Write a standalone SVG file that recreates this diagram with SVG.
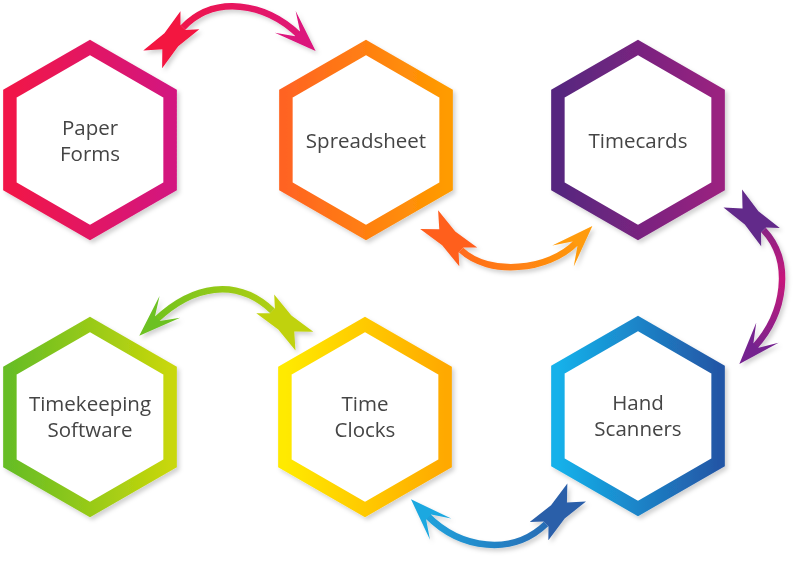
<svg xmlns="http://www.w3.org/2000/svg" xmlns:xlink="http://www.w3.org/1999/xlink" width="800" height="562" viewBox="0 0 800 562">
<style>
.hex{fill:#ffffff;stroke-width:13.5;stroke-linejoin:miter}
.lbl{font-family:"Open Sans","Liberation Sans",sans-serif;font-size:20.5px;fill:#444444;text-anchor:middle}
.shaft{fill:none;stroke-width:6.5;stroke-linecap:butt}
</style>
<defs>
<filter id="sh" x="-20%" y="-20%" width="140%" height="140%">
<feDropShadow dx="2.5" dy="3" stdDeviation="2" flood-color="#000" flood-opacity="0.18"/>
</filter>
<path id="hexp" d="M0,-92.5 L80.1,-46.25 L80.1,46.25 L0,92.5 L-80.1,46.25 L-80.1,-46.25 Z"/>
<path id="simple" d="M23,0 L-19,-15 L-2,-3.5 L-2,3.5 L-19,15 Z"/>
<path id="heavy" d="M0,-3.5 L-10,-13 L17,-9.5 L44,-13 L30,0 L44,13 L17,9.5 L-10,13 L0,3.5 Z"/>
<linearGradient id="gPaper" x1="0" y1="0" x2="1" y2="0"><stop offset="0" stop-color="#f11948"/><stop offset="1" stop-color="#d3137f"/></linearGradient>
<linearGradient id="gSpread" x1="0" y1="0" x2="1" y2="0"><stop offset="0" stop-color="#ff6422"/><stop offset="1" stop-color="#ff9b00"/></linearGradient>
<linearGradient id="gTimecards" x1="0" y1="0" x2="1" y2="0"><stop offset="0" stop-color="#56287f"/><stop offset="1" stop-color="#9a2080"/></linearGradient>
<linearGradient id="gKeeping" x1="0" y1="0" x2="1" y2="0"><stop offset="0" stop-color="#67bd25"/><stop offset="1" stop-color="#c8d70b"/></linearGradient>
<linearGradient id="gClocks" x1="0" y1="0" x2="1" y2="0"><stop offset="0" stop-color="#ffea00"/><stop offset="1" stop-color="#ffa900"/></linearGradient>
<linearGradient id="gHand" x1="0" y1="0" x2="1" y2="0"><stop offset="0" stop-color="#14b1ea"/><stop offset="1" stop-color="#2457a6"/></linearGradient>
<linearGradient id="a1" gradientUnits="userSpaceOnUse" x1="150" y1="0" x2="317" y2="0"><stop offset="0" stop-color="#f3123f"/><stop offset="1" stop-color="#dc127c"/></linearGradient>
<linearGradient id="a2" gradientUnits="userSpaceOnUse" x1="422" y1="0" x2="592" y2="0"><stop offset="0" stop-color="#ff5c20"/><stop offset="1" stop-color="#ff9d0a"/></linearGradient>
<linearGradient id="a3" gradientUnits="userSpaceOnUse" x1="0" y1="195" x2="0" y2="362"><stop offset="0" stop-color="#5f2a8b"/><stop offset="0.5" stop-color="#c8187b"/><stop offset="1" stop-color="#6c2590"/></linearGradient>
<linearGradient id="a4" gradientUnits="userSpaceOnUse" x1="412" y1="0" x2="584" y2="0"><stop offset="0" stop-color="#1ea8e0"/><stop offset="1" stop-color="#2a5ca9"/></linearGradient>
<linearGradient id="a5" gradientUnits="userSpaceOnUse" x1="140" y1="0" x2="312" y2="0"><stop offset="0" stop-color="#6cc121"/><stop offset="1" stop-color="#c2d30e"/></linearGradient>
</defs>

<g id="connectors" filter="url(#sh)">
<g id="c1">
<path class="shaft" stroke="url(#a1)" d="M183,27.5 C214.5,-5.5 265.2,2.6 299,35"/>
<use href="#heavy" fill="#f3123f" transform="translate(183,27.5) rotate(133.5)"/>
<use href="#simple" fill="#dc127c" transform="translate(299,35) rotate(43.8)"/>
</g>
<g id="c2">
<path class="shaft" stroke="url(#a2)" d="M461,250 C489,276.5 548.4,271 576.3,242.4"/>
<use href="#heavy" fill="#ff5e1f" transform="translate(461,250) rotate(-136.4)"/>
<use href="#simple" fill="#ff9b0a" transform="translate(576.3,242.4) rotate(-45.7)"/>
</g>
<g id="c3">
<path class="shaft" stroke="url(#a3)" d="M763.5,230 C793.4,261.5 784.8,313.4 754.7,346.9"/>
<use href="#heavy" fill="#62298a" transform="translate(763.5,230) rotate(-134.3)"/>
<use href="#simple" fill="#74238f" transform="translate(754.7,346.9) rotate(131.9)"/>
</g>
<g id="c4">
<path class="shaft" stroke="url(#a4)" d="M427.2,515.6 C461.1,549.6 512.5,556 546,524"/>
<use href="#simple" fill="#1ea8e0" transform="translate(427.2,515.6) rotate(-134.9)"/>
<use href="#heavy" fill="#2a5ea9" transform="translate(546,524) rotate(-45.8)"/>
</g>
<g id="c5">
<path class="shaft" stroke="url(#a5)" d="M156,319.9 C192.4,285.5 236.5,276.8 272.5,310.8"/>
<use href="#simple" fill="#6cc121" transform="translate(156,319.9) rotate(136.7)"/>
<use href="#heavy" fill="#c0d20e" transform="translate(272.5,310.8) rotate(43.5)"/>
</g>
</g>

<g id="paper-forms" filter="url(#sh)">
<use href="#hexp" class="hex" stroke="url(#gPaper)" transform="translate(90,140)"/>
<text class="lbl" x="90" y="135">Paper</text>
<text class="lbl" x="90" y="161">Forms</text>
</g>
<g id="spreadsheet" filter="url(#sh)">
<use href="#hexp" class="hex" stroke="url(#gSpread)" transform="translate(366,140)"/>
<text class="lbl" x="366" y="148">Spreadsheet</text>
</g>
<g id="timecards" filter="url(#sh)">
<use href="#hexp" class="hex" stroke="url(#gTimecards)" transform="translate(638,140)"/>
<text class="lbl" x="638" y="148">Timecards</text>
</g>
<g id="timekeeping-software" filter="url(#sh)">
<use href="#hexp" class="hex" stroke="url(#gKeeping)" transform="translate(90,417)"/>
<text class="lbl" x="90" y="411">Timekeeping</text>
<text class="lbl" x="90" y="437">Software</text>
</g>
<g id="time-clocks" filter="url(#sh)">
<use href="#hexp" class="hex" stroke="url(#gClocks)" transform="translate(365,417)"/>
<text class="lbl" x="365" y="411">Time</text>
<text class="lbl" x="365" y="437">Clocks</text>
</g>
<g id="hand-scanners" filter="url(#sh)">
<use href="#hexp" class="hex" stroke="url(#gHand)" transform="translate(638,416)"/>
<text class="lbl" x="638" y="410">Hand</text>
<text class="lbl" x="638" y="436">Scanners</text>
</g>
</svg>
